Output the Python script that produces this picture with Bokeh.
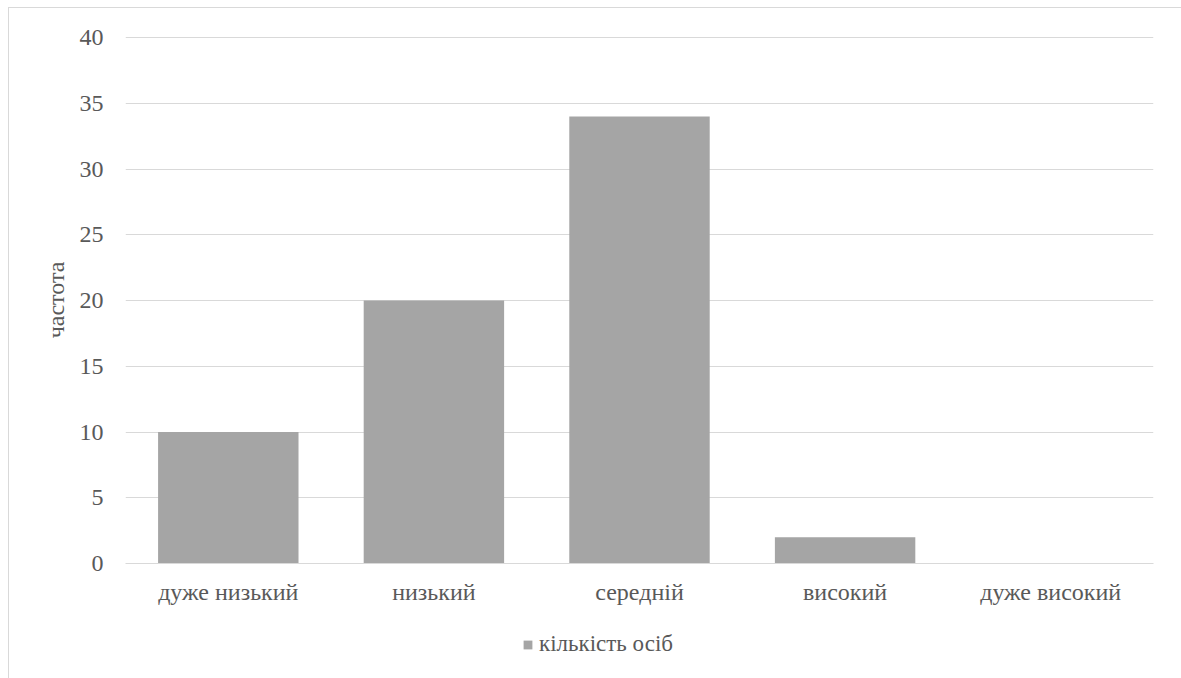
from bokeh.plotting import figure
from bokeh.layouts import column
from bokeh.models import ColumnDataSource, Legend, LegendItem, SingleIntervalTicker
from bokeh.embed import file_html
from bokeh.resources import INLINE

# Distribution of respondents by level
levels = ["дуже низький", "низький", "середній", "високий", "дуже високий"]
counts = [10, 20, 34, 2, 0]
series_name = "кількість осіб"
y_title = "частота"

FONT = "Liberation Serif"
FONT_SIZE = "24px"
TEXT = "#595959"
GRID = "#d9d9d9"
BAR = "#a5a5a5"
BAR_WIDTH = 0.683

src = ColumnDataSource(data=dict(level=levels, count=counts))

# main chart; the range top is nudged so the 40 gridline is not clipped
p = figure(
    x_range=levels, y_range=(0, 40.08),
    width=1172, height=615,
    output_backend="svg", toolbar_location=None,
    min_border_left=116, min_border_right=28,
    min_border_top=28, min_border_bottom=60,
)
p.outline_line_color = None

bars = p.vbar(x="level", top="count", width=BAR_WIDTH, source=src,
              fill_color=BAR, line_color=None)

p.yaxis.ticker = SingleIntervalTicker(interval=5)
p.ygrid.grid_line_color = GRID
p.ygrid.grid_line_width = 1
p.xgrid.grid_line_color = None

for ax in (p.xaxis[0], p.yaxis[0]):
    ax.major_tick_line_color = None
    ax.minor_tick_line_color = None
    ax.major_label_text_font = FONT
    ax.major_label_text_font_size = FONT_SIZE
    ax.major_label_text_color = TEXT

p.yaxis.axis_line_color = None
p.yaxis.major_label_standoff = 16
p.yaxis.axis_label = y_title
p.yaxis.axis_label_text_font = FONT
p.yaxis.axis_label_text_font_size = FONT_SIZE
p.yaxis.axis_label_text_font_style = "normal"
p.yaxis.axis_label_text_color = TEXT
p.yaxis.axis_label_standoff = 8

p.xaxis.axis_line_color = GRID
p.xaxis.axis_line_width = 1
p.xaxis.major_label_standoff = 9

# legend strip below the chart; its bars sit outside the visible y range
q = figure(
    x_range=levels, y_range=(100, 200),
    width=1172, height=55,
    output_backend="svg", toolbar_location=None,
    min_border=0,
)
q.axis.visible = False
q.grid.visible = False
q.outline_line_color = None
key_bars = q.vbar(x="level", top="count", width=BAR_WIDTH, source=src,
                  fill_color=BAR, line_color=None)

legend = Legend(
    items=[LegendItem(label=series_name, renderers=[key_bars])],
    location=(397, 21),
    orientation="horizontal",
    glyph_width=11, glyph_height=11,
    label_standoff=6, padding=0, margin=0, spacing=0,
    label_text_font=FONT, label_text_font_size="23px",
    label_text_color=TEXT,
    border_line_color=None, background_fill_alpha=0,
)
q.add_layout(legend, "center")

page = column(
    p, q, spacing=0,
    margin=(7, 0, 0, 8),
    styles={"border-left": f"1px solid {GRID}", "border-top": f"1px solid {GRID}"},
)

open("out.html", "w").write(file_html(page, INLINE))
